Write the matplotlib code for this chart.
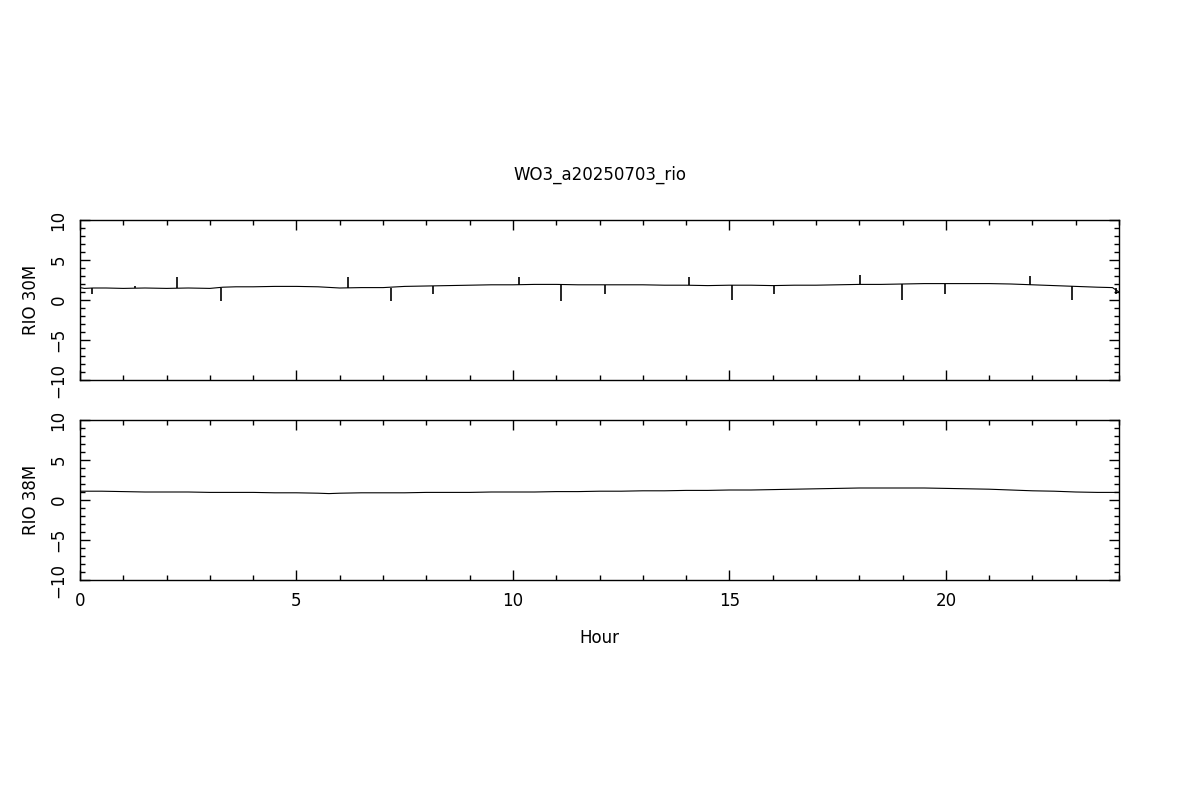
#!/usr/bin/env python3

import matplotlib
matplotlib.use('Agg')
import matplotlib.pyplot as plt
from matplotlib.ticker import MultipleLocator

title = 'WO3_a20250703_rio'

# RIO 30M: slow baseline (hour, value)
hours30 = [0.0, 0.1, 0.3, 0.6, 1.0, 1.5, 2.0, 2.5, 3.0, 3.3, 3.6, 4.0, 4.5, 5.0, 5.5, 6.0,
           6.5, 7.0, 7.5, 8.0, 8.5, 9.0, 9.5, 10.0, 10.5, 11.0, 11.5, 12.0, 12.5, 13.0,
           13.5, 14.0, 14.5, 15.0, 15.5, 16.0, 16.5, 17.0, 17.5, 18.0, 18.5, 19.0, 19.5,
           20.0, 20.5, 21.0, 21.5, 22.0, 22.5, 23.0, 23.5, 23.85, 24.0]
rio30 = [1.55, 1.45, 1.5, 1.5, 1.45, 1.5, 1.45, 1.5, 1.45, 1.6, 1.65, 1.65, 1.7, 1.7, 1.65, 1.5,
         1.55, 1.55, 1.7, 1.75, 1.8, 1.85, 1.9, 1.9, 1.95, 1.95, 1.9, 1.9, 1.9, 1.9,
         1.85, 1.85, 1.8, 1.85, 1.85, 1.8, 1.85, 1.85, 1.9, 1.95, 1.95, 2.0, 2.05,
         2.05, 2.05, 2.05, 2.0, 1.9, 1.8, 1.7, 1.6, 1.55, 1.0]

# calibration spikes on RIO 30M: hour, base, tip
spike_hours = [0.27, 1.27, 2.25, 3.25, 6.2, 7.18, 8.16, 10.15, 11.12, 12.12,
               14.06, 15.07, 16.04, 18.02, 18.99, 19.99, 21.95, 22.92, 23.92]
spike_base = [1.45, 1.5, 1.5, 1.55, 1.5, 1.55, 1.75, 1.9, 1.95, 1.9,
              1.85, 1.85, 1.8, 1.95, 2.0, 2.05, 1.9, 1.7, 1.55]
spike_tip = [0.7, 1.8, 2.9, -0.1, 2.9, -0.1, 0.8, 2.9, -0.1, 0.7,
             2.9, 0.0, 0.7, 3.1, 0.0, 0.8, 3.0, 0.0, 0.8]

# RIO 38M
hours38 = [0.0, 0.5, 1.0, 1.5, 2.0, 2.5, 3.0, 3.5, 4.0, 4.5, 5.0, 5.5, 5.75, 6.0, 6.5,
           7.0, 7.5, 8.0, 8.5, 9.0, 9.5, 10.0, 10.5, 11.0, 11.5, 12.0, 12.5, 13.0, 13.5,
           14.0, 14.5, 15.0, 15.5, 16.0, 16.5, 17.0, 17.5, 18.0, 18.5, 19.0, 19.5, 20.0,
           20.5, 21.0, 21.5, 22.0, 22.5, 23.0, 23.5, 24.0]
rio38 = [1.1, 1.1, 1.05, 1.0, 1.0, 1.0, 0.95, 0.95, 0.95, 0.9, 0.9, 0.85, 0.8, 0.85, 0.9,
         0.9, 0.9, 0.95, 0.95, 0.95, 1.0, 1.0, 1.0, 1.05, 1.05, 1.1, 1.1, 1.15, 1.15,
         1.2, 1.2, 1.25, 1.25, 1.3, 1.35, 1.4, 1.45, 1.5, 1.5, 1.5, 1.5, 1.45,
         1.4, 1.35, 1.25, 1.15, 1.1, 1.0, 0.95, 0.95]

panels = [('RIO 30M', hours30, rio30), ('RIO 38M', hours38, rio38)]

fig = plt.figure(figsize=(12, 8), dpi=100)
axes = [fig.add_axes([0.0667, 0.525, 0.8658, 0.2]),
        fig.add_axes([0.0667, 0.275, 0.8658, 0.2])]

for ax, (label, x, y) in zip(axes, panels):
    ax.plot(x, y, color='black', linewidth=0.8)
    ax.set_xlim(0, 24)
    ax.set_ylim(-10, 10)
    ax.xaxis.set_major_locator(MultipleLocator(5))
    ax.xaxis.set_minor_locator(MultipleLocator(1))
    ax.yaxis.set_major_locator(MultipleLocator(5))
    ax.yaxis.set_minor_locator(MultipleLocator(1))
    ax.tick_params(which='both', direction='in', top=True, right=True, width=1.0,
                   labelsize=12, pad=9)
    ax.tick_params(which='major', length=7)
    ax.tick_params(which='minor', length=3.6)
    for lbl in ax.get_yticklabels():
        lbl.set_rotation(90)
        lbl.set_verticalalignment('center')
    for s in ax.spines.values():
        s.set_linewidth(1.0)
    ax.set_ylabel(label, fontsize=12, labelpad=7)

axes[0].vlines(spike_hours, spike_base, spike_tip, color='black', linewidth=1.2)
axes[0].tick_params(labelbottom=False)
axes[1].set_xlabel('Hour', fontsize=12, labelpad=13)

fig.text(0.5, 0.781, title, ha='center', va='center', fontsize=12)

plt.savefig('out.png', dpi=100)
